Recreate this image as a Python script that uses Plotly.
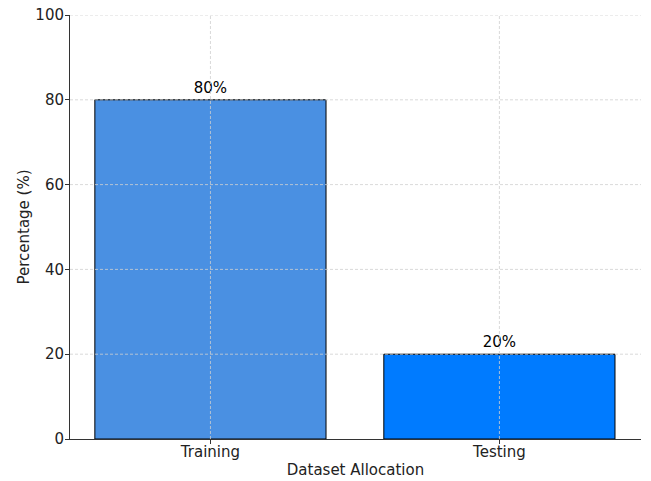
import plotly.graph_objects as go

# Dataset split shares
categories = ["Training", "Testing"]
percentages = [80, 20]
bar_colors = ["#4A90E2", "#007BFF"]
y_ticks = [0, 20, 40, 60, 80, 100]

font_family = "DejaVu Sans"
grid_color = "#cfcfcf"

fig = go.Figure()
fig.add_trace(go.Bar(
    x=categories,
    y=percentages,
    width=0.8,
    marker=dict(color=bar_colors, line=dict(color="black", width=1)),
    text=[f"{v}%" for v in percentages],
    textposition="outside",
    textfont=dict(family=font_family, size=15, color="black"),
    cliponaxis=False,
    hoverinfo="skip",
))

# Dashed grid drawn on top of the bars
shapes = []
for t in y_ticks[1:]:
    shapes.append(dict(type="line", xref="paper", yref="y", x0=0, x1=1, y0=t, y1=t,
                       line=dict(color=grid_color, width=0.8, dash="3px,2px"), layer="above"))
for c in categories:
    shapes.append(dict(type="line", xref="x", yref="paper", x0=c, x1=c, y0=0, y1=1,
                       line=dict(color=grid_color, width=0.8, dash="3px,2px"), layer="above"))

fig.update_layout(
    width=651, height=481,
    margin=dict(l=70, r=10, t=15, b=42),
    paper_bgcolor="white", plot_bgcolor="white",
    font=dict(family=font_family, size=15, color="#222"),
    showlegend=False,
    shapes=shapes,
    xaxis=dict(
        range=[-0.486, 1.49],
        automargin=False,
        showgrid=False,
        showline=True, linecolor="#333", linewidth=1,
        ticks="outside", ticklen=4, tickcolor="#333",
        tickfont=dict(size=15),
        ticklabelstandoff=-5,
        title=dict(text="Dataset Allocation", font=dict(size=15), standoff=4),
        zeroline=False,
    ),
    yaxis=dict(
        range=[0, 100],
        automargin=False,
        tickvals=y_ticks,
        showgrid=False,
        showline=True, linecolor="#333", linewidth=1,
        ticks="outside", ticklen=4, tickcolor="#333",
        tickfont=dict(size=15),
        ticklabelstandoff=-2,
        title=dict(text="Percentage (%)", font=dict(size=15), standoff=2),
        zeroline=False,
    ),
)

fig.write_html("out.html")
